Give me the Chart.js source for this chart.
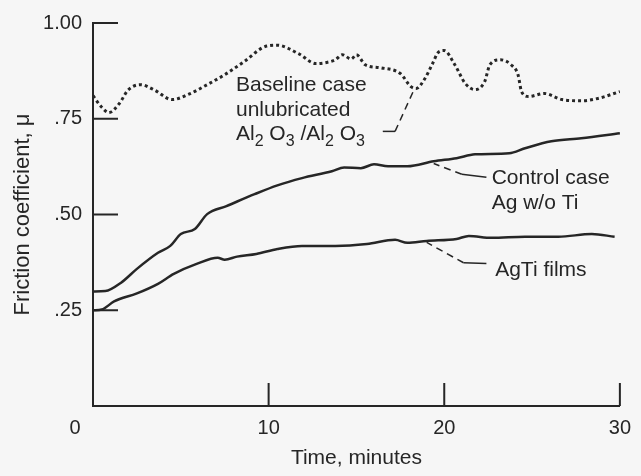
<!DOCTYPE html>
<html>
<head>
<meta charset="utf-8">
<script src="https://cdn.jsdelivr.net/npm/chart.js@4"></script>
<style>
  html, body { margin: 0; padding: 0; background: #f6f6f6; }
  #wrap { width: 641px; height: 476px; position: relative; }
</style>
</head>
<body>
<div id="wrap"><canvas id="frictionChart"></canvas></div>
<script>
// friction coefficient vs time
const baselineTime = [0, 0.5, 0.9, 1.5, 2.0, 2.7, 3.5, 4.5, 5.5, 6.5, 7.5, 8.6, 9.9, 10.5, 11.7, 12.7, 13.3, 13.8, 14.2, 14.7, 15.0, 15.5, 16.4, 17.5, 18.1, 18.4, 18.9, 19.3, 19.7, 20.0, 20.6, 21.2, 21.75, 22.3, 22.6, 23.2, 23.8, 24.2, 24.4, 24.8, 25.7, 26.7, 27.8, 28.75, 30];
const baselineMu = [0.81, 0.78, 0.766, 0.79, 0.825, 0.839, 0.825, 0.80, 0.815, 0.839, 0.865, 0.899, 0.94, 0.942, 0.92, 0.894, 0.897, 0.904, 0.917, 0.906, 0.917, 0.891, 0.883, 0.868, 0.834, 0.829, 0.855, 0.891, 0.925, 0.928, 0.891, 0.842, 0.826, 0.847, 0.891, 0.904, 0.891, 0.865, 0.821, 0.808, 0.816, 0.80, 0.797, 0.803, 0.821];

const controlTime = [0, 0.7, 1.6, 2.5, 3.7, 4.4, 5.0, 5.8, 6.5, 7.6, 9.2, 10.5, 11.9, 13.6, 14.3, 15.25, 16.0, 16.8, 17.9, 19.4, 20.7, 21.75, 23.7, 24.6, 26.1, 27.8, 30];
const controlMu = [0.299, 0.30, 0.322, 0.358, 0.40, 0.418, 0.449, 0.462, 0.501, 0.522, 0.553, 0.576, 0.595, 0.613, 0.623, 0.621, 0.631, 0.626, 0.626, 0.639, 0.647, 0.657, 0.66, 0.673, 0.691, 0.699, 0.712];

const agtiTime = [0, 0.5, 1.2, 2.5, 3.7, 4.6, 5.9, 7.1, 7.5, 8.2, 9.3, 10.5, 11.9, 13.8, 15.6, 17.2, 17.9, 19.0, 20.7, 21.4, 22.7, 24.6, 26.5, 28.4, 29.7];
const agtiMu = [0.25, 0.252, 0.273, 0.294, 0.319, 0.345, 0.371, 0.387, 0.382, 0.39, 0.397, 0.41, 0.418, 0.418, 0.423, 0.434, 0.426, 0.431, 0.436, 0.444, 0.439, 0.442, 0.442, 0.449, 0.442];

const xTicks = [0, 10, 20, 30];
const xTickLabels = ['0', '10', '20', '30'];
const yTicks = [0, 0.25, 0.5, 0.75, 1.0];
const yTickLabels = ['', '.25', '.50', '.75', '1.00'];

const ink = '#262626';
const font = '"Liberation Sans", Arial, sans-serif';

const toPoints = (xs, ys) => xs.map((t, i) => ({ x: t, y: ys[i] }));

// labels and leader lines, anchored in data units
const notes = {
  baseline: { x: 8.14, lines: [0.837, 0.772, 0.71] },
  control: { x: 22.7, lines: [0.595, 0.529] },
  agti: { x: 22.9, lines: [0.355] }
};

const annotate = {
  id: 'annotate',
  afterDraw(chart) {
    const { ctx, chartArea } = chart;
    const sx = chart.scales.x, sy = chart.scales.y;
    const px = v => sx.getPixelForValue(v);
    const py = v => sy.getPixelForValue(v);
    ctx.save();

    // tick marks point into the plot
    ctx.strokeStyle = ink;
    ctx.lineWidth = 2;
    ctx.beginPath();
    yTicks.slice(1).forEach(v => {
      ctx.moveTo(chartArea.left, py(v));
      ctx.lineTo(chartArea.left + 25, py(v));
    });
    xTicks.slice(1).forEach(v => {
      ctx.moveTo(px(v), chartArea.bottom);
      ctx.lineTo(px(v), chartArea.bottom - 23);
    });
    ctx.stroke();

    // the origin label sits left of the corner
    ctx.fillStyle = ink;
    ctx.font = '20px ' + font;
    ctx.textAlign = 'center';
    ctx.textBaseline = 'middle';
    ctx.fillText(xTickLabels[0], px(0) - 18, chartArea.bottom + 22);

    ctx.textAlign = 'left';
    ctx.font = '21px ' + font;
    const b = notes.baseline;
    ctx.fillText('Baseline case', px(b.x), py(b.lines[0]));
    ctx.fillText('unlubricated', px(b.x), py(b.lines[1]));
    // Al2 O3 /Al2 O3 with subscripts
    let cx = px(b.x);
    const cy = py(b.lines[2]);
    [['Al', 0], ['2', 1], [' O', 0], ['3', 1], [' /Al', 0], ['2', 1], [' O', 0], ['3', 1]].forEach(([t, sub]) => {
      ctx.font = (sub ? '16px ' : '21px ') + font;
      ctx.fillText(t, cx, cy + (sub ? 8 : 0));
      cx += ctx.measureText(t).width;
    });

    ctx.font = '21px ' + font;
    const c = notes.control;
    ctx.fillText('Control case', px(c.x), py(c.lines[0]));
    ctx.fillText('Ag w/o Ti', px(c.x), py(c.lines[1]));
    const a = notes.agti;
    ctx.fillText('AgTi films', px(a.x), py(a.lines[0]));

    // leader lines: solid stub then dashes to the curve
    const leader = (stub, dashed) => {
      ctx.setLineDash([]);
      ctx.beginPath();
      ctx.moveTo(px(stub[0][0]), py(stub[0][1]));
      ctx.lineTo(px(stub[1][0]), py(stub[1][1]));
      ctx.stroke();
      ctx.setLineDash([7, 5]);
      ctx.beginPath();
      ctx.moveTo(px(dashed[0][0]), py(dashed[0][1]));
      ctx.lineTo(px(dashed[1][0]), py(dashed[1][1]));
      ctx.stroke();
    };
    ctx.lineWidth = 1.5;
    leader([[16.5, 0.717], [17.2, 0.717]], [[17.2, 0.717], [18.3, 0.828]]);
    leader([[22.4, 0.597], [21.0, 0.605]], [[21.0, 0.605], [19.4, 0.633]]);
    leader([[22.4, 0.372], [21.1, 0.374]], [[21.1, 0.374], [19.0, 0.427]]);

    ctx.restore();
  }
};

const lineSet = (label, xs, ys, dash) => ({
  label,
  data: toPoints(xs, ys),
  borderColor: ink,
  borderWidth: dash ? 3 : 2.5,
  borderDash: dash || [],
  pointRadius: 0,
  fill: false,
  cubicInterpolationMode: 'monotone'
});

new Chart(document.getElementById('frictionChart'), {
  type: 'line',
  data: {
    datasets: [
      lineSet('Baseline case unlubricated Al2O3/Al2O3', baselineTime, baselineMu, [3, 3]),
      lineSet('Control case Ag w/o Ti', controlTime, controlMu),
      lineSet('AgTi films', agtiTime, agtiMu)
    ]
  },
  options: {
    responsive: true,
    maintainAspectRatio: false,
    animation: false,
    layout: { padding: { top: 21, right: 17, left: 0, bottom: 0 } },
    plugins: { legend: { display: false }, tooltip: { enabled: false } },
    scales: {
      x: {
        type: 'linear',
        min: 0,
        max: 30,
        afterBuildTicks: s => { s.ticks = xTicks.map(v => ({ value: v })); },
        afterFit: s => { s.height = 70; },
        ticks: {
          color: ink,
          font: { family: font, size: 20 },
          padding: 10,
          maxRotation: 0,
          callback: v => (v === 0 ? '' : xTickLabels[xTicks.indexOf(v)])
        },
        grid: { display: true, drawOnChartArea: false, drawTicks: false },
        border: { display: true, color: ink, width: 2 },
        title: {
          display: true,
          text: 'Time, minutes',
          color: ink,
          font: { family: font, size: 21 },
          padding: { top: 5, bottom: 5 }
        }
      },
      y: {
        min: 0,
        max: 1,
        afterBuildTicks: s => { s.ticks = yTicks.map(v => ({ value: v })); },
        afterFit: s => { s.width = 93; },
        ticks: {
          color: ink,
          font: { family: font, size: 20 },
          padding: 11,
          callback: v => yTickLabels[yTicks.indexOf(v)]
        },
        grid: { display: true, drawOnChartArea: false, drawTicks: false },
        border: { display: true, color: ink, width: 2 },
        title: {
          display: true,
          text: 'Friction coefficient, μ',
          color: ink,
          font: { family: font, size: 22 },
          padding: { top: 10, bottom: 10 }
        }
      }
    }
  },
  plugins: [annotate]
});
</script>
</body>
</html>
